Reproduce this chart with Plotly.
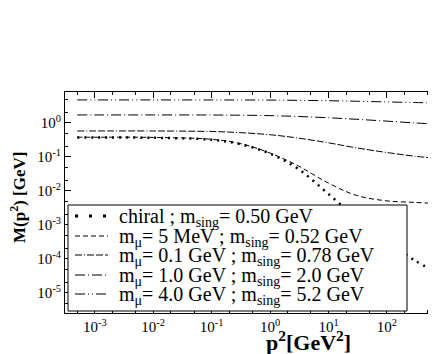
import plotly.graph_objects as go

p2 = [5e-4, 1e-3, 1e-2, 0.1, 0.3, 1, 3, 10, 30, 100, 300, 650]

m_chiral = [0.37, 0.37, 0.365, 0.32, 0.24, 0.125, 0.045, 0.0081, 0.0016, 3.5e-4, 9e-5, 4.5e-5]
m_5mev = [0.38, 0.38, 0.375, 0.33, 0.25, 0.13, 0.055, 0.017, 0.0074, 0.0051, 0.0046, 0.0043]
m_01 = [0.58, 0.58, 0.58, 0.56, 0.52, 0.45, 0.36, 0.26, 0.185, 0.135, 0.105, 0.093]
m_10 = [1.72, 1.72, 1.72, 1.71, 1.69, 1.64, 1.55, 1.42, 1.28, 1.13, 1.0, 0.93]
m_40 = [4.75, 4.75, 4.75, 4.74, 4.73, 4.7, 4.62, 4.5, 4.35, 4.15, 3.98, 3.88]

names = [
    "chiral ; m<sub>sing</sub>= 0.50 GeV",
    "m<sub>μ</sub>= 5 MeV ; m<sub>sing</sub>= 0.52 GeV",
    "m<sub>μ</sub>= 0.1 GeV ; m<sub>sing</sub>= 0.78 GeV",
    "m<sub>μ</sub>= 1.0 GeV ; m<sub>sing</sub>= 2.0 GeV",
    "m<sub>μ</sub>= 4.0 GeV ; m<sub>sing</sub>= 5.2 GeV",
]
series = [m_chiral, m_5mev, m_01, m_10, m_40]
dashes = [
    "2px,5px",
    "5px,3px",
    "7px,2px,1px,2px,7px,2px,7px,2px",
    "10px,3px,1px,3px",
    "10px,3px,1px,3px,1px,3px",
]
widths = [2.5, 1, 1, 1, 1]
legend_dashes = ["3px,11px"] + dashes[1:]
legend_widths = [3, 1, 1, 1, 1]

xt_vals = [1e-3, 1e-2, 1e-1, 1, 10, 100]
xt_text = ["10<sup>-3</sup>", "10<sup>-2</sup>", "10<sup>-1</sup>", "10<sup>0</sup>", "10<sup>1</sup>", "10<sup>2</sup>"]
yt_vals = [1e-5, 1e-4, 1e-3, 1e-2, 1e-1, 1]
yt_text = ["10<sup>-5</sup>", "10<sup>-4</sup>", "10<sup>-3</sup>", "10<sup>-2</sup>", "10<sup>-1</sup>", "10<sup>0</sup>"]

# page offset of the plot div (default body margin)
OFF = 8
W, H = 436 - OFF, 354 - OFF
# plot area in page pixels
L, R, T, B = 65, 436, 92, 313
def px(x):
    return (x - L) / (R - L)
def py(y):
    return (B - y) / (B - T)

fig = go.Figure()
for name, ys, d, w in zip(names, series, dashes, widths):
    fig.add_trace(go.Scatter(
        x=p2, y=ys, mode="lines", name=name, showlegend=False,
        line=dict(color="black", width=w, dash=d, shape="spline"),
    ))

font = "Liberation Serif, Times New Roman, serif"

shapes = [dict(type="rect", xref="paper", yref="paper",
               x0=px(68), x1=px(407), y0=py(311), y1=py(205),
               fillcolor="white", line=dict(color="black", width=1), layer="above")]
annotations = []
row_y = [216, 236, 255, 275, 294]
for i, (name, d, w) in enumerate(zip(names, legend_dashes, legend_widths)):
    yy = py(row_y[i])
    shapes.append(dict(type="line", xref="paper", yref="paper",
                       x0=px(75), x1=px(108), y0=yy, y1=yy,
                       line=dict(color="black", width=w, dash=d), layer="above"))
    annotations.append(dict(text=name, xref="paper", yref="paper",
                            x=px(117), y=py(row_y[i] + 1), xanchor="left", yanchor="middle",
                            showarrow=False, font=dict(family=font, size=20, color="black")))

annotations.append(dict(text="<b>M(p<sup>2</sup>) [GeV]</b>", xref="paper", yref="paper",
                        x=px(18), y=py(198), xanchor="center", yanchor="middle", textangle=-90,
                        showarrow=False, font=dict(family=font, size=17, color="black")))
annotations.append(dict(text="<b>p<sup>2</sup>[GeV<sup>2</sup>]</b>", xref="paper", yref="paper",
                        x=px(308), y=py(341), xanchor="center", yanchor="middle",
                        showarrow=False, font=dict(family=font, size=22, color="black")))

fig.update_layout(
    width=W, height=H,
    margin=dict(l=L - OFF, r=436 - R, t=T - OFF, b=354 - B, autoexpand=False),
    paper_bgcolor="white", plot_bgcolor="white",
    font=dict(family=font, color="black", size=15),
    showlegend=False,
    shapes=shapes,
    annotations=annotations,
    xaxis=dict(
        type="log", range=[-3.51, 2.84], automargin=False,
        tickvals=xt_vals, ticktext=xt_text,
        ticks="inside", ticklen=6, tickcolor="black",
        minor=dict(ticks="inside", ticklen=3, tickcolor="black", showgrid=False),
        showline=True, linecolor="black", linewidth=1, mirror="ticks",
        showgrid=False, zeroline=False,
        tickfont=dict(family=font, size=15),
    ),
    yaxis=dict(
        type="log", range=[-5.59, 0.91], automargin=False,
        tickvals=yt_vals, ticktext=yt_text,
        ticks="inside", ticklen=6, tickcolor="black",
        minor=dict(ticks="inside", ticklen=3, tickcolor="black", showgrid=False),
        showline=True, linecolor="black", linewidth=1, mirror=False,
        showgrid=False, zeroline=False,
        tickfont=dict(family=font, size=15),
    ),
)

fig.write_html("out.html")
